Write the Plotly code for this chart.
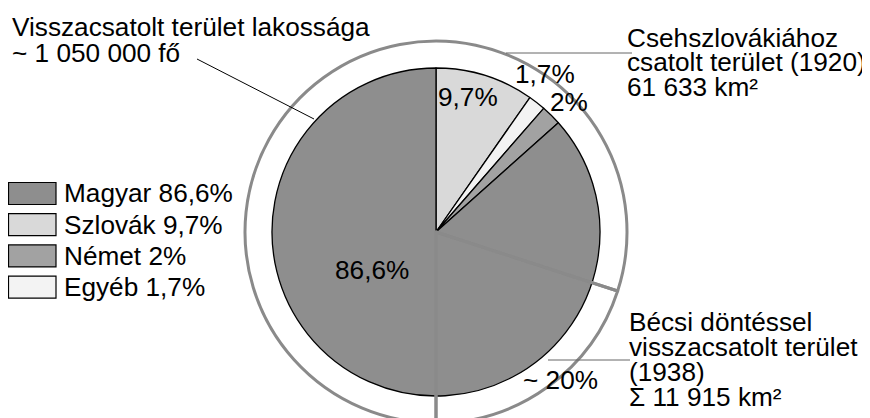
import plotly.graph_objects as go

# ---------------- data ----------------
categories = ["Magyar", "Szlovák", "Német", "Egyéb"]
shares = [86.6, 9.7, 2, 1.7]
colors = ["#8e8e8e", "#d9d9d9", "#a2a2a2", "#f3f3f3"]
slice_order = ["Szlovák", "Egyéb", "Német", "Magyar"]   # clockwise from 12 o'clock

ring_labels = ["Bécsi döntéssel visszacsatolt terület", "Csehszlovákiához csatolt terület"]
ring_values = [20, 80]          # ~20 % of the 1920 territory

title_lines = ["Visszacsatolt terület lakossága", "~ 1 050 000 fő"]
cs_lines = ["Csehszlovákiához", "csatolt terület (1920)", "61 633 km²"]
vb_lines = ["Bécsi döntéssel", "visszacsatolt terület", "(1938)", "Σ 11 915 km²"]

# ---------------- helpers ----------------
W, H = 870, 418
OFF = 8                      # page body margin (screen px)
CX, CY = 436, 232            # screen px
R_IN, R_OUT = 164, 191
FONT = "Liberation Sans, Arial, sans-serif"
FS = 26.2
RING_GRAY = "#8a8a8a"


def fx(x):
    return (x - OFF) / W


def fy(y):
    return 1 - (y - OFF) / H


def pct(v):
    return f"{v:g}".replace(".", ",") + "%"


idx = [categories.index(c) for c in slice_order]

fig = go.Figure()

# inner pie
fig.add_trace(go.Pie(
    labels=[categories[i] for i in idx],
    values=[shares[i] for i in idx],
    marker=dict(colors=[colors[i] for i in idx], line=dict(color="black", width=1.3)),
    sort=False, direction="clockwise", rotation=0,
    textinfo="none", textposition="none", showlegend=False,
    domain=dict(x=[fx(CX - R_IN), fx(CX + R_IN)], y=[fy(CY + R_IN), fy(CY - R_IN)]),
))

# outer ring (transparent slices, gray outline and division lines)
fig.add_trace(go.Pie(
    labels=ring_labels, values=ring_values,
    marker=dict(colors=["rgba(0,0,0,0)", "rgba(0,0,0,0)"], line=dict(color=RING_GRAY, width=3)),
    sort=False, direction="clockwise", rotation=108,
    textinfo="none", textposition="none", showlegend=False,
    domain=dict(x=[fx(CX - R_OUT), fx(CX + R_OUT)], y=[max(0, fy(CY + R_OUT)), fy(CY - R_OUT)]),
))

annotations = []
shapes = []


def text(x, y, s, xanchor="left"):
    annotations.append(dict(
        x=fx(x), y=fy(y), xref="paper", yref="paper", text=s, showarrow=False,
        xanchor=xanchor, yanchor="middle", font=dict(family=FONT, size=FS, color="black"),
    ))


# title at top left
for k, s in enumerate(title_lines):
    text(10, 27.5 + 25 * k, s)

# Csehszlovákiához block
for k, s in enumerate(cs_lines):
    text(625, 37.5 + 25 * k, s)

# Bécsi döntés block
for k, s in enumerate(vb_lines):
    text(627, 321.5 + 25 * k, s)

# slice labels
lab_pos = {"Szlovák": (468, 97), "Egyéb": (545, 74), "Német": (569, 102), "Magyar": (372, 270)}
for c, (x, y) in lab_pos.items():
    text(x, y, pct(shares[categories.index(c)]), xanchor="center")
text(560, 380, "~ " + f"{ring_values[0]}%", xanchor="center")

# legend
for k, c in enumerate(categories):
    y0 = 182.5 + 31.2 * k
    shapes.append(dict(type="rect", xref="paper", yref="paper",
                       x0=fx(8.5), x1=fx(56), y0=fy(y0), y1=fy(y0 + 22),
                       fillcolor=colors[k], line=dict(color="black", width=1.2)))
    text(62, y0 + 11, f"{c} {pct(shares[k])}")

# leader lines
shapes.append(dict(type="line", xref="paper", yref="paper",
                   x0=fx(197), y0=fy(59), x1=fx(314), y1=fy(119),
                   line=dict(color="black", width=1)))
shapes.append(dict(type="line", xref="paper", yref="paper",
                   x0=fx(506), y0=fy(53), x1=fx(632), y1=fy(53),
                   line=dict(color="#666666", width=1)))
shapes.append(dict(type="line", xref="paper", yref="paper",
                   x0=fx(548), y0=fy(360), x1=fx(630), y1=fy(360),
                   line=dict(color="#666666", width=1)))

fig.update_layout(
    width=W, height=H,
    margin=dict(l=0, r=0, t=0, b=0),
    paper_bgcolor="white", plot_bgcolor="white",
    showlegend=False,
    annotations=annotations, shapes=shapes,
)

fig.write_html("out.html")
